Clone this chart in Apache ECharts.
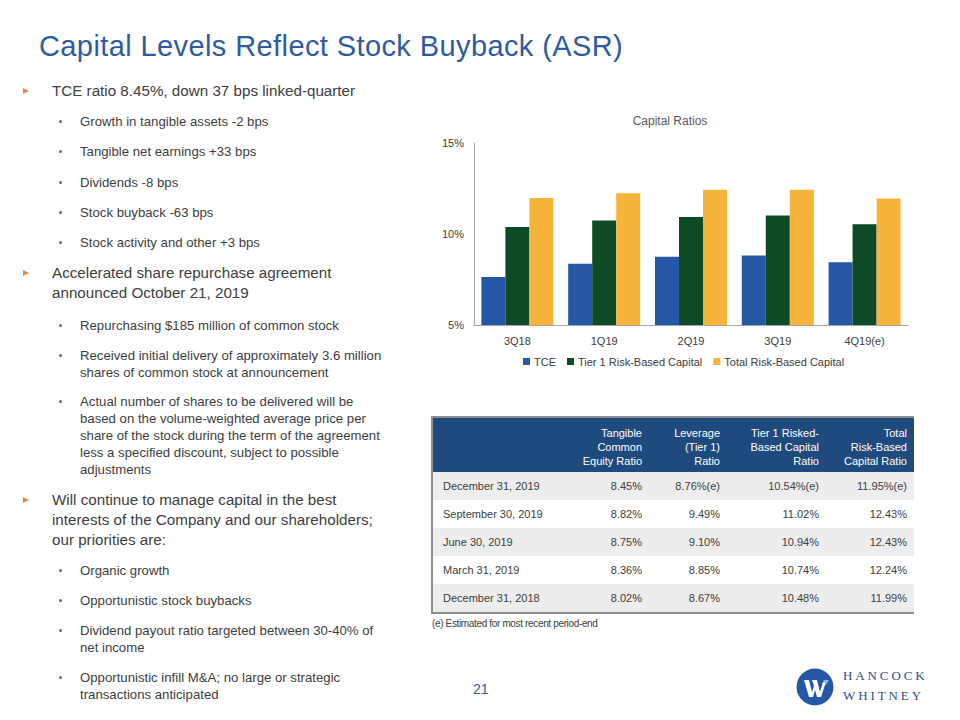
<!DOCTYPE html>
<html>
<head>
<meta charset="utf-8">
<script src="https://cdn.jsdelivr.net/npm/echarts@6/dist/echarts.min.js"></script>
<style>
  html, body { margin: 0; padding: 0; background: #fff; }
  #slide { position: relative; width: 960px; height: 720px; overflow: hidden; font-family: "Liberation Sans", Arial, sans-serif; color: #404040; }
  .title { position: absolute; left: 39px; top: 30px; font-size: 29px; color: #2E5C9E; white-space: nowrap; letter-spacing: 0.4px; }
  .blk { position: absolute; white-space: nowrap; }
  .l1 { left: 52px; font-size: 15.2px; line-height: 20px; color: #404040; }
  .l2 { left: 80px; font-size: 13.2px; line-height: 17px; color: #404040; }
  .arrow { position: absolute; left: 23px; width: 0; height: 0; border-left: 6px solid #E58A4E; border-top: 3.5px solid transparent; border-bottom: 3.5px solid transparent; }
  .dot { position: absolute; left: 59px; width: 3px; height: 3px; border-radius: 50%; background: #4F6E9E; }
  #chart { position: absolute; left: 400px; top: 100px; width: 540px; height: 280px; }
  table.cap { position: absolute; left: 431px; top: 416px; width: 482px; border-collapse: collapse; table-layout: fixed; font-size: 11px; color: #404040; border: 2px solid #8E8E8E; border-right: none; }
  table.cap th { background: #1F4A7E; color: #fff; font-weight: normal; text-align: right; vertical-align: bottom; line-height: 14px; padding: 0 7px 4px 0; height: 50px; font-size: 11px; white-space: nowrap; }
  table.cap td { height: 28px; padding: 0 7px 0 0; text-align: right; white-space: nowrap; }
  table.cap td.lab { text-align: left; padding-left: 10px; }
  table.cap tr.g td { background: #EDEDED; }
  .foot { position: absolute; left: 432px; top: 618px; font-size: 10px; color: #404040; letter-spacing: -0.35px; font-family: "Liberation Sans Narrow", "Liberation Sans", Arial, sans-serif; }
  .page { position: absolute; left: 473px; top: 681px; font-size: 14px; color: #2E5C9E; }
  .logoText { position: absolute; left: 843px; font-family: "Liberation Serif", "DejaVu Serif", serif; font-size: 13px; letter-spacing: 2.9px; color: #2F4F8A; }
</style>
</head>
<body>
<div id="slide">
  <div class="title">Capital Levels Reflect Stock Buyback (ASR)</div>
  <div id="bullets"></div>
  <div id="chart"></div>
  <table class="cap" id="capTable"></table>
  <div class="foot">(e) Estimated for most recent period-end</div>
  <div class="page">21</div>
  <svg style="position:absolute;left:796px;top:668px" width="40" height="40" viewBox="0 0 40 40">
    <circle cx="19" cy="19" r="18.5" fill="#2457A6"/>
    <polygon points="8,12 13,12 16,24 18,18 16,12 21,12 24,24 27,14 30,14 25,29 21,29 19,22 17,29 13,29" fill="#fff"/>
    <polygon points="27,12 33,12 30,17" fill="#8FB4E8"/>
  </svg>
  <div class="logoText" style="top:668px">HANCOCK</div>
  <div class="logoText" style="top:688px">WHITNEY</div>
</div>
<script>
// ---- Chart data ----
var categories = ['3Q18', '1Q19', '2Q19', '3Q19', '4Q19(e)'];
var tceValues = [7.64, 8.36, 8.75, 8.82, 8.45];
var tier1Values = [10.38, 10.74, 10.94, 11.02, 10.54];
var totalValues = [11.98, 12.24, 12.43, 12.43, 11.95];
var seriesNames = ['TCE', 'Tier 1 Risk-Based Capital', 'Total Risk-Based Capital'];
var yTicks = [5, 10, 15];

// ---- Table data ----
var tableHeaders = ['', 'Tangible<br>Common<br>Equity Ratio', 'Leverage<br>(Tier 1)<br>Ratio', 'Tier 1 Risked-<br>Based Capital<br>Ratio', 'Total<br>Risk-Based<br>Capital Ratio'];
var tableDates = ['December 31, 2019', 'September 30, 2019', 'June 30, 2019', 'March 31, 2019', 'December 31, 2018'];
var tableTce = ['8.45%', '8.82%', '8.75%', '8.36%', '8.02%'];
var tableLeverage = ['8.76%(e)', '9.49%', '9.10%', '8.85%', '8.67%'];
var tableTier1 = ['10.54%(e)', '11.02%', '10.94%', '10.74%', '10.48%'];
var tableTotal = ['11.95%(e)', '12.43%', '12.43%', '12.24%', '11.99%'];

// ---- Bullet text ----
var bulletItems = [
  { lvl: 1, y: 91, lines: ['TCE ratio 8.45%, down 37 bps linked-quarter'] },
  { lvl: 2, y: 121, lines: ['Growth in tangible assets -2 bps'] },
  { lvl: 2, y: 151, lines: ['Tangible net earnings +33 bps'] },
  { lvl: 2, y: 182, lines: ['Dividends -8 bps'] },
  { lvl: 2, y: 212, lines: ['Stock buyback -63 bps'] },
  { lvl: 2, y: 242, lines: ['Stock activity and other +3 bps'] },
  { lvl: 1, y: 273, lines: ['Accelerated share repurchase agreement', 'announced October 21, 2019'] },
  { lvl: 2, y: 325, lines: ['Repurchasing $185 million of common stock'] },
  { lvl: 2, y: 355, lines: ['Received initial delivery of approximately  3.6 million', 'shares of common stock at announcement'] },
  { lvl: 2, y: 401, lines: ['Actual number of shares to be delivered will be', 'based on the volume-weighted average price per', 'share of the stock during the term of the agreement', 'less a specified discount, subject to possible', 'adjustments'] },
  { lvl: 1, y: 500, lines: ['Will continue to manage capital in the best', 'interests of the Company and our shareholders;', 'our priorities are:'] },
  { lvl: 2, y: 570, lines: ['Organic growth'] },
  { lvl: 2, y: 600, lines: ['Opportunistic stock buybacks'] },
  { lvl: 2, y: 630, lines: ['Dividend payout ratio targeted between 30-40% of', 'net income'] },
  { lvl: 2, y: 677, lines: ['Opportunistic infill M&A; no large or strategic', 'transactions anticipated'] }
];

(function buildBullets() {
  var host = document.getElementById('bullets');
  bulletItems.forEach(function (it) {
    var lh = it.lvl === 1 ? 20 : 17;
    var d = document.createElement('div');
    d.className = 'blk ' + (it.lvl === 1 ? 'l1' : 'l2');
    d.style.top = (it.y - lh / 2) + 'px';
    d.innerHTML = it.lines.map(function (s) { return s.replace(/&/g, '&amp;'); }).join('<br>');
    host.appendChild(d);
    var m = document.createElement('div');
    if (it.lvl === 1) { m.className = 'arrow'; m.style.top = (it.y - 3.5) + 'px'; }
    else { m.className = 'dot'; m.style.top = (it.y - 1.5) + 'px'; }
    host.appendChild(m);
  });
})();

(function buildTable() {
  var t = document.getElementById('capTable');
  var widths = [150, 67, 78, 99, 88];
  var html = '<colgroup>' + widths.map(function (w) { return '<col style="width:' + w + 'px">'; }).join('') + '</colgroup>';
  html += '<tr>' + tableHeaders.map(function (h) { return '<th>' + h + '</th>'; }).join('') + '</tr>';
  tableDates.forEach(function (d, i) {
    html += '<tr class="' + (i % 2 === 0 ? 'g' : 'w') + '"><td class="lab">' + d + '</td><td>' + tableTce[i] + '</td><td>' + tableLeverage[i] + '</td><td>' + tableTier1[i] + '</td><td>' + tableTotal[i] + '</td></tr>';
  });
  t.innerHTML = html;
})();

var chart = echarts.init(document.getElementById('chart'), null, { renderer: 'svg' });
var txt = { fontFamily: 'Liberation Sans, Arial, sans-serif', color: '#404040', fontSize: 11 };
chart.setOption({
  animation: false,
  textStyle: txt,
  title: { text: 'Capital Ratios', left: 'center', top: 10, textStyle: { fontSize: 12, fontWeight: 'normal', color: '#595959', fontFamily: txt.fontFamily } },
  legend: {
    data: seriesNames, bottom: 8, left: 118, itemWidth: 7, itemHeight: 7, itemGap: 11, icon: 'rect',
    textStyle: { fontSize: 11, color: '#404040', fontFamily: txt.fontFamily, padding: [0, 0, 0, -1] }
  },
  grid: { left: 74, right: 32, top: 43, bottom: 55, containLabel: false },
  xAxis: {
    type: 'category', data: categories,
    axisLine: { lineStyle: { color: '#A6A6A6', width: 1 } },
    axisTick: { show: false },
    axisLabel: { margin: 10, fontSize: 11, color: '#404040' }
  },
  yAxis: {
    type: 'value', min: yTicks[0], max: yTicks[yTicks.length - 1], interval: 5,
    axisLine: { show: true, lineStyle: { color: '#A6A6A6', width: 1 } },
    axisTick: { show: false },
    splitLine: { show: false },
    axisLabel: { margin: 10, fontSize: 11, color: '#404040', formatter: '{value}%' }
  },
  series: [
    { name: seriesNames[0], type: 'bar', data: tceValues, barGap: '0%', barCategoryGap: '17%', itemStyle: { color: '#2457A6' } },
    { name: seriesNames[1], type: 'bar', data: tier1Values, barGap: '0%', barCategoryGap: '17%', itemStyle: { color: '#0F4A26' } },
    { name: seriesNames[2], type: 'bar', data: totalValues, barGap: '0%', barCategoryGap: '17%', itemStyle: { color: '#F7B43C' } }
  ]
});
</script>
</body>
</html>
